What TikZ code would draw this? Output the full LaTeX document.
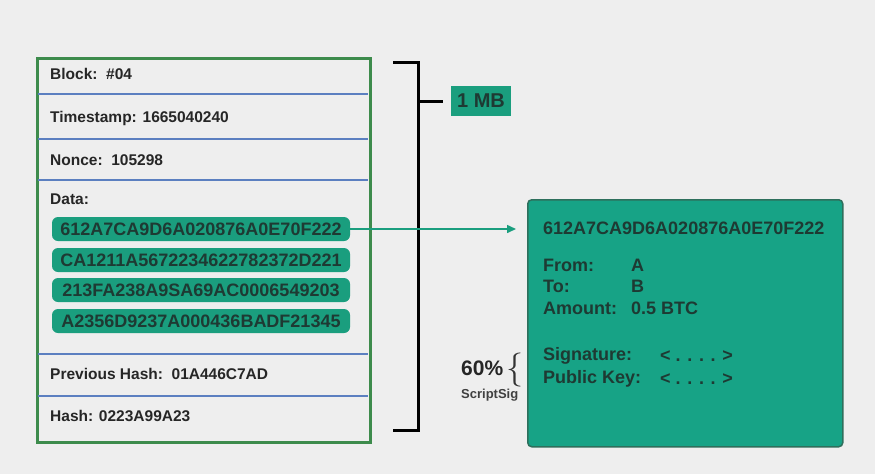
\documentclass[tikz,border=0pt]{standalone}
\usepackage{fontspec}
\setmainfont{Liberation Sans}
\usetikzlibrary{arrows.meta}
\definecolor{bg}{HTML}{EEEEEE}
\definecolor{gborder}{HTML}{3D8B4C}
\definecolor{sep}{HTML}{5B7FC0}
\definecolor{pill}{HTML}{1A9E7E}
\definecolor{dtext}{HTML}{1E3A33}
\definecolor{cardfill}{HTML}{17A386}
\definecolor{cardline}{HTML}{2E6F5C}
\tikzset{
 lbl/.style={anchor=west,font=\bfseries\fontsize{15.5}{17}\selectfont,text=black!85,inner sep=0pt},
 pillbox/.style={fill=pill,rounded corners=6pt,minimum width=298pt,minimum height=24pt,inner sep=0pt,text=dtext,font=\bfseries\fontsize{18}{20}\selectfont},
 sepline/.style={sep,line width=2pt},
 ctext/.style={anchor=west,inner sep=0pt,text=dtext,font=\bfseries\fontsize{18}{20}\selectfont},
}
\begin{document}
\begin{tikzpicture}[x=1pt,y=-1pt]
\fill[bg] (0,0) rectangle (875,474);
\useasboundingbox (0,0) rectangle (875,474);
\node[draw=gborder,line width=2.5pt,minimum width=333pt,minimum height=384pt,anchor=north west,inner sep=0pt] (blk) at (36,57) {};
\foreach \y in {94,139,180,354,396} \draw[sepline] (37.5,\y) -- (367.5,\y);
\node[lbl] (b1) at (50,74) {Block:\ \ \#04};
\node[lbl] (b2) at (50,118) {Timestamp: 1665040240};
\node[lbl] (b3) at (50,160) {Nonce:\ \ 105298};
\node[lbl] (b4) at (50,199) {Data:};
\node[pillbox] (p1) at (201,229) {612A7CA9D6A020876A0E70F222};
\node[pillbox] (p2) at (201,260) {CA1211A5672234622782372D221};
\node[pillbox] (p3) at (201,290) {213FA238A9SA69AC0006549203};
\node[pillbox] (p4) at (201,321) {A2356D9237A000436BADF21345};
\node[lbl] (b5) at (50,374) {Previous Hash:\ \ 01A446C7AD};
\node[lbl] (b6) at (50,416) {Hash: 0223A99A23};
\coordinate (bt) at (393,62);
\coordinate (bb) at (393,430);
\draw[line width=3pt] (bt) -| (418,430) -- (bb);
\node[fill=pill,minimum width=60pt,minimum height=30pt,inner sep=0pt,text=dtext,font=\bfseries\fontsize{20}{22}\selectfont] (mb) at (481,101) {1 MB};
\draw[line width=3pt] (418,101) -- (443,101);
\node[draw=cardline,fill=cardfill,line width=1.5pt,rounded corners=4pt,minimum width=315pt,minimum height=247pt,anchor=north west,inner sep=0pt] (card) at (527,199) {};
\draw[pill,line width=1.5pt,-{Triangle[length=9pt,width=8pt]}] (p1.east) -- (516,229);
\node[ctext] at (543,228) {612A7CA9D6A020876A0E70F222};
\node[ctext] at (543,265) {From:};
\node[ctext] at (631,265) {A};
\node[ctext] at (543,286) {To:};
\node[ctext] at (631,286) {B};
\node[ctext] at (543,308) {Amount:};
\node[ctext] at (631,308) {0.5 BTC};
\node[ctext] at (543,356) {Signature:};
\node[ctext] at (660,356) {< . . . . >};
\node[ctext] at (543,379) {Public Key:};
\node[ctext] at (660,379) {< . . . . >};
\node[anchor=west,inner sep=0pt,font=\bfseries\fontsize{21}{23}\selectfont,text=black!85] (pct) at (461,368) {60\%};
\node[anchor=west,inner sep=0pt,font=\fontsize{34}{36}\selectfont\fontspec{Latin Modern Roman},text=black!80] (br) at (506,370) {\{};
\node[anchor=west,inner sep=0pt,font=\bfseries\fontsize{13}{15}\selectfont,text=black!75] (ss) at (461,395) {ScriptSig};
\end{tikzpicture}
\end{document}
